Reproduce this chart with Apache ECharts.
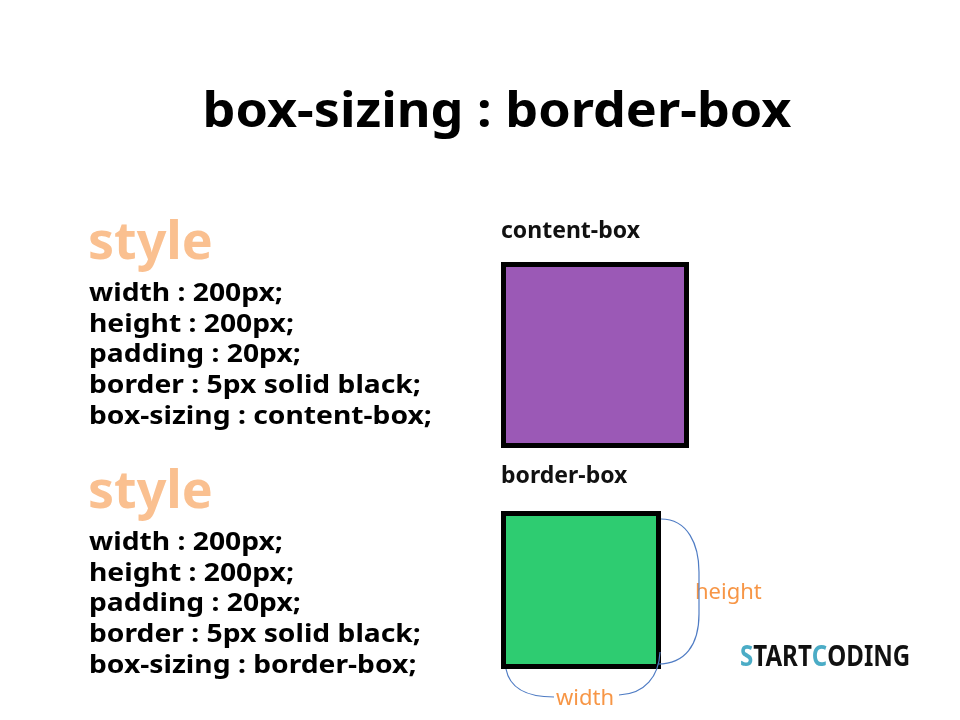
<!DOCTYPE html>
<html><head><meta charset="utf-8">
<script src="https://cdn.jsdelivr.net/npm/echarts@6/dist/echarts.min.js"></script>
<style>html,body{margin:0;padding:0;background:#fff}#c{width:960px;height:720px}</style>
</head><body><div id="c"></div>
<script>
// ---- content ----
const titleText = 'box-sizing : border-box';
const styleHeading = 'style';
const contentBoxLines = ['width : 200px;', 'height : 200px;', 'padding : 20px;', 'border : 5px solid black;', 'box-sizing : content-box;'];
const borderBoxLines = ['width : 200px;', 'height : 200px;', 'padding : 20px;', 'border : 5px solid black;', 'box-sizing : border-box;'];
const boxLabels = ['content-box', 'border-box'];
const dimensionLabels = ['height', 'width'];
// box extents on the page grid: [left, top, right, bottom]
const boxExtents = [[501, 262, 689, 448], [501, 511, 661, 669]];
// bracket curves: bezier segments [x1,y1, cx1,cy1, cx2,cy2, x2,y2]
const heightBracket = [
  [661, 519, 688, 519, 699, 545, 699, 572],
  [699, 572, 699, 590, 699, 600, 699, 614],
  [699, 614, 699, 645, 685, 664, 658, 664]
];
const widthBracket = [
  [506, 669, 510, 690, 530, 697, 554, 697],
  [619, 695, 645, 694, 659, 676, 660, 652]
];

// ---- styles ----
const boxColors = ['#9B59B6', '#2ECC71'];
const headFont = '"Noto Sans", "Lato", sans-serif';

const chart = echarts.init(document.getElementById('c'));

function textEl(text, x, y, font, fill, align, sx) {
  return { type: 'text', x: x, y: y, scaleX: sx || 1, silent: true,
    style: { text: text, font: font, fill: fill, align: align || 'left', verticalAlign: 'middle' } };
}

const graphics = [];
graphics.push(textEl(titleText, 497, 113, 'bold 48px ' + headFont, '#000', 'center', 1.085));
graphics.push(textEl(styleHeading, 88, 244, 'bold 52px ' + headFont, '#FAC090'));
graphics.push(textEl(styleHeading, 88, 493, 'bold 52px ' + headFont, '#FAC090'));
const blockTops = [294, 543];
[contentBoxLines, borderBoxLines].forEach(function (lines, b) {
  lines.forEach(function (t, i) {
    graphics.push(textEl(t, 89, blockTops[b] + i * 30.6, 'bold 25px ' + headFont, '#000', 'left', 1.13));
  });
});
graphics.push(textEl(boxLabels[0], 501, 231, 'bold 23px ' + headFont, '#111'));
graphics.push(textEl(boxLabels[1], 501, 476, 'bold 23px ' + headFont, '#111'));
graphics.push(textEl(dimensionLabels[0], 695, 593, '22px ' + headFont, '#F79646'));
graphics.push(textEl(dimensionLabels[1], 585, 699, '22px ' + headFont, '#F79646', 'center'));
graphics.push({ type: 'text', x: 740, y: 658, scaleX: 0.83, silent: true,
  style: {
    text: '{b|S}{k|TART}{b|C}{k|ODING}', verticalAlign: 'middle', align: 'left',
    rich: {
      b: { font: 'bold 29px "Noto Sans", sans-serif', fill: '#4BACC6' },
      k: { font: 'bold 29px "Noto Sans", sans-serif', fill: '#111' }
    }
  } });

function bracketSeries(name, data) {
  return {
    type: 'custom', name: name, clip: false, silent: true,
    data: data,
    renderItem: function (params, api) {
      const p1 = api.coord([api.value(0), api.value(1)]);
      const c1 = api.coord([api.value(2), api.value(3)]);
      const c2 = api.coord([api.value(4), api.value(5)]);
      const p2 = api.coord([api.value(6), api.value(7)]);
      return { type: 'bezierCurve',
        shape: { x1: p1[0], y1: p1[1], cpx1: c1[0], cpy1: c1[1], cpx2: c2[0], cpy2: c2[1], x2: p2[0], y2: p2[1] },
        style: { stroke: '#4F7CC4', lineWidth: 1.2, fill: null } };
    }
  };
}

chart.setOption({
  animation: false,
  backgroundColor: '#fff',
  grid: { left: 0, right: 0, top: 0, bottom: 0 },
  xAxis: { type: 'value', min: 0, max: 960, show: false },
  yAxis: { type: 'value', min: 0, max: 720, inverse: true, show: false },
  series: [
    {
      type: 'custom', name: 'boxes', clip: false, silent: true,
      data: boxExtents,
      renderItem: function (params, api) {
        const a = api.coord([api.value(0), api.value(1)]);
        const b = api.coord([api.value(2), api.value(3)]);
        return { type: 'rect',
          shape: { x: a[0] + 2.5, y: a[1] + 2.5, width: b[0] - a[0] - 5, height: b[1] - a[1] - 5 },
          style: { fill: boxColors[params.dataIndex], stroke: '#000', lineWidth: 5 } };
      }
    },
    bracketSeries('height', heightBracket),
    bracketSeries('width', widthBracket)
  ],
  graphic: graphics
});
</script></body></html>
